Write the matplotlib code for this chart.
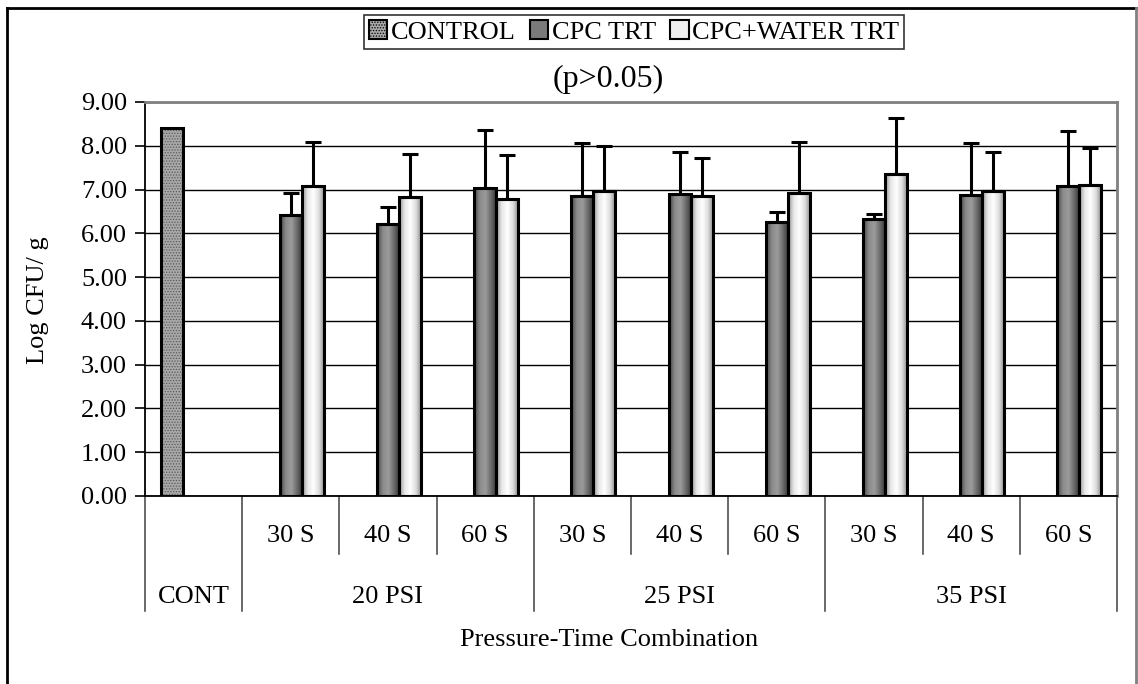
import numpy as np
import matplotlib
matplotlib.use("Agg")
import matplotlib.pyplot as plt
from matplotlib.patches import Patch
from matplotlib.lines import Line2D
import matplotlib.transforms as mtransforms
from matplotlib.colors import LinearSegmentedColormap

plt.rcParams["font.family"] = ["Liberation Serif", "DejaVu Serif"]
plt.rcParams["hatch.linewidth"] = 0.6

# data
time_labels = ["", "30 S", "40 S", "60 S", "30 S", "40 S", "60 S", "30 S", "40 S", "60 S"]
group_labels = ["CONT", "20 PSI", "25 PSI", "35 PSI"]
group_sizes = [1, 3, 3, 3]
series_names = ["CONTROL", "CPC TRT", "CPC+WATER TRT"]

control = [8.40, np.nan, np.nan, np.nan, np.nan, np.nan, np.nan, np.nan, np.nan, np.nan]
cpc = [np.nan, 6.42, 6.22, 7.04, 6.86, 6.90, 6.26, 6.32, 6.87, 7.09]
cpc_err = [0, 0.49, 0.39, 1.31, 1.20, 0.95, 0.23, 0.12, 1.19, 1.25]
water = [np.nan, 7.07, 6.82, 6.78, 6.97, 6.85, 6.93, 7.36, 6.97, 7.11]
water_err = [0, 1.01, 1.00, 1.00, 1.03, 0.87, 1.16, 1.27, 0.88, 0.85]

fig = plt.figure(figsize=(11.38, 6.84), dpi=100)
ax = fig.add_axes([145 / 1138, 1 - 496 / 684, 972 / 1138, 394 / 684])

x = np.arange(len(time_labels))
w = 0.227
fs = 19

cpc_cmap = LinearSegmentedColormap.from_list(
    "cpc", ["#454545", "#8a8a8a", "#9c9c9c", "#6a6a6a", "#333333"])
water_cmap = LinearSegmentedColormap.from_list(
    "water", ["#949494", "#e8e8e8", "#ffffff", "#dddddd", "#858585"])
grad = np.linspace(0, 1, 64).reshape(1, -1)


def gradient_bars(bars, cmap):
    for b in bars:
        h = b.get_height()
        if not np.isfinite(h) or h == 0:
            continue
        x0 = b.get_x()
        ax.imshow(grad, cmap=cmap, aspect="auto", interpolation="bilinear",
                  extent=[x0, x0 + b.get_width(), 0, h], zorder=2)


# control bar (textured gray)
ax.bar(x - w, control, w, color="#a8a8a8", edgecolor="#5a5a5a", hatch="......",
       linewidth=0, zorder=2)
ax.bar(x - w, control, w, facecolor="none", edgecolor="black", linewidth=2.2, zorder=3)

b1 = ax.bar(x, cpc, w, facecolor="none", edgecolor="black", linewidth=2.2, zorder=3)
gradient_bars(b1, cpc_cmap)
b2 = ax.bar(x + w, water, w, facecolor="none", edgecolor="black", linewidth=2.2, zorder=3)
gradient_bars(b2, water_cmap)

ekw = dict(fmt="none", ecolor="black", elinewidth=2.2, capsize=5.5, capthick=2.2, zorder=4)
ax.errorbar(x, cpc, yerr=[np.zeros(len(x)), cpc_err], **ekw)
ax.errorbar(x + w, water, yerr=[np.zeros(len(x)), water_err], **ekw)

ax.set_xlim(-0.5, len(x) - 0.5)
ax.set_ylim(0, 9)
ax.set_yticks(np.arange(0, 10, 1))
ax.set_yticklabels([f"{v:.2f}" for v in np.arange(0, 10, 1)], fontsize=fs)
ax.yaxis.grid(True, color="black", linewidth=1.0)
ax.set_axisbelow(True)
ax.tick_params(axis="y", direction="out", length=7, width=1.2, pad=6)
ax.tick_params(axis="x", length=0, labelbottom=False)

for side in ["top", "right"]:
    ax.spines[side].set_color("#808080")
    ax.spines[side].set_linewidth(2)
for side in ["left", "bottom"]:
    ax.spines[side].set_color("black")
    ax.spines[side].set_linewidth(1.3)

# two-level category axis
trans = mtransforms.blended_transform_factory(ax.transData, ax.transAxes)
for i, lab in enumerate(time_labels):
    ax.text(i, -0.1015, lab, transform=trans, ha="center", va="center", fontsize=fs)
edges = np.cumsum([0] + group_sizes) - 0.5
for k in range(len(x) + 1):
    xe = k - 0.5
    low = -0.292 if xe in edges else -0.147
    ax.plot([xe, xe], [0, low], transform=trans, color="#404040", linewidth=1.1,
            clip_on=False)
for gi, lab in enumerate(group_labels):
    cx = (edges[gi] + edges[gi + 1]) / 2
    ax.text(cx, -0.257, lab, transform=trans, ha="center", va="center", fontsize=fs)

fig.text(609 / 1138, 1 - 640 / 684, "Pressure-Time Combination", ha="center",
         va="center", fontsize=fs)
fig.text(38 / 1138, 1 - 300 / 684, "Log CFU/ g", ha="center", va="center",
         rotation=90, fontsize=fs)
fig.text(608 / 1138, 1 - 79 / 684, "(p>0.05)", ha="center", va="center", fontsize=23)

handles = [
    Patch(facecolor="#a8a8a8", edgecolor="black", hatch="......", linewidth=1.5),
    Patch(facecolor="#7a7a7a", edgecolor="black", linewidth=1.5),
    Patch(facecolor="#eeeeee", edgecolor="black", linewidth=1.5),
]
leg = fig.legend(handles, series_names, loc="upper center", ncol=3,
                 bbox_to_anchor=(634 / 1138, 1 - 15 / 684), fontsize=fs,
                 frameon=True, fancybox=False, handlelength=0.7, handleheight=0.7,
                 handletextpad=0.12, columnspacing=0.55, borderpad=0.2,
                 borderaxespad=0)
leg.get_frame().set_edgecolor("black")
leg.get_frame().set_linewidth(1.2)

# outer chart frame
fl, ft, fr = 7 / 1138, 1 - 8 / 684, 1136 / 1138
fig.add_artist(Line2D([fl, fr], [ft, ft], color="black", linewidth=2))
fig.add_artist(Line2D([fl, fl], [ft, 0], color="black", linewidth=2))
fig.add_artist(Line2D([fr, fr], [ft, 0], color="#808080", linewidth=2))

fig.savefig("out.png", dpi=100)
